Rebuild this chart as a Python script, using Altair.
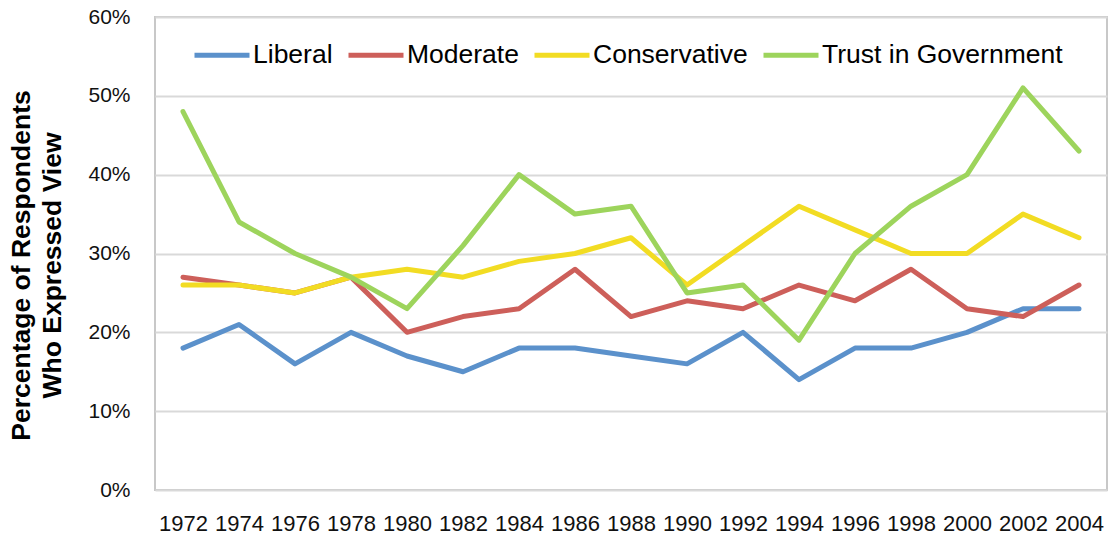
import altair as alt
import pandas as pd

years = ["1972", "1974", "1976", "1978", "1980", "1982", "1984", "1986", "1988",
         "1990", "1992", "1994", "1996", "1998", "2000", "2002", "2004"]
liberal = [18, 21, 16, 20, 17, 15, 18, 18, 17, 16, 20, 14, 18, 18, 20, 23, 23]
moderate = [27, 26, 25, 27, 20, 22, 23, 28, 22, 24, 23, 26, 24, 28, 23, 22, 26]
conservative = [26, 26, 25, 27, 28, 27, 29, 30, 32, 26, 31, 36, 33, 30, 30, 35, 32]
trust = [48, 34, 30, 27, 23, 31, 40, 35, 36, 25, 26, 19, 30, 36, 40, 51, 43]

series_names = ["Liberal", "Moderate", "Conservative", "Trust in Government"]
series_values = [liberal, moderate, conservative, trust]
colors = ["#5B91CB", "#CD5F5A", "#F2DC23", "#9DD45C"]

rows = []
for name, vals in zip(series_names, series_values):
    for y, v in zip(years, vals):
        rows.append({"Year": y, "Series": name, "Value": v / 100})
df = pd.DataFrame(rows)

FONT = "Liberation Sans, Arial, sans-serif"

chart = alt.Chart(df).mark_line(strokeWidth=5, strokeJoin="round", strokeCap="round").encode(
    x=alt.X("Year:O", sort=years,
            scale=alt.Scale(type="point", padding=0.5),
            axis=alt.Axis(title=None, labelAngle=0, ticks=False, domain=False,
                          labelFontSize=22, labelPadding=23, labelColor="#111",
                          labelFont=FONT)),
    y=alt.Y("Value:Q",
            scale=alt.Scale(domain=[0, 0.6]),
            axis=alt.Axis(format="%", values=[0, 0.1, 0.2, 0.3, 0.4, 0.5, 0.6],
                          title=["Percentage of Respondents", "Who Expressed View"],
                          titleFont=FONT, titleFontSize=26.5, titleFontWeight="bold",
                          titleColor="#000", titleAngle=270, titleAlign="center",
                          titleBaseline="top", titleX=-147, titleY=248,
                          titleLineHeight=31,
                          labelFontSize=21, labelFont=FONT, labelColor="#111",
                          labelPadding=25, ticks=False, domain=False,
                          gridColor="#D9D9D9", gridWidth=2)),
    color=alt.Color("Series:N", sort=series_names,
                    scale=alt.Scale(domain=series_names, range=colors),
                    legend=alt.Legend(title=None, orient="none", direction="horizontal",
                                      legendX=37, legendY=8,
                                      symbolType="stroke", symbolStrokeWidth=5,
                                      symbolSize=3025, labelFontSize=26.5,
                                      labelFont=FONT, labelColor="#000",
                                      labelLimit=0,
                                      columnPadding=5, labelOffset=1)),
).properties(
    width=952, height=473,
    autosize=alt.AutoSizeParams(type="none"),
    padding={"left": 155, "top": 17, "right": 5, "bottom": 58},
).configure_view(stroke="#C8C8C8", strokeWidth=2)

chart.save("out.html", embed_options={"renderer": "svg", "actions": False})
